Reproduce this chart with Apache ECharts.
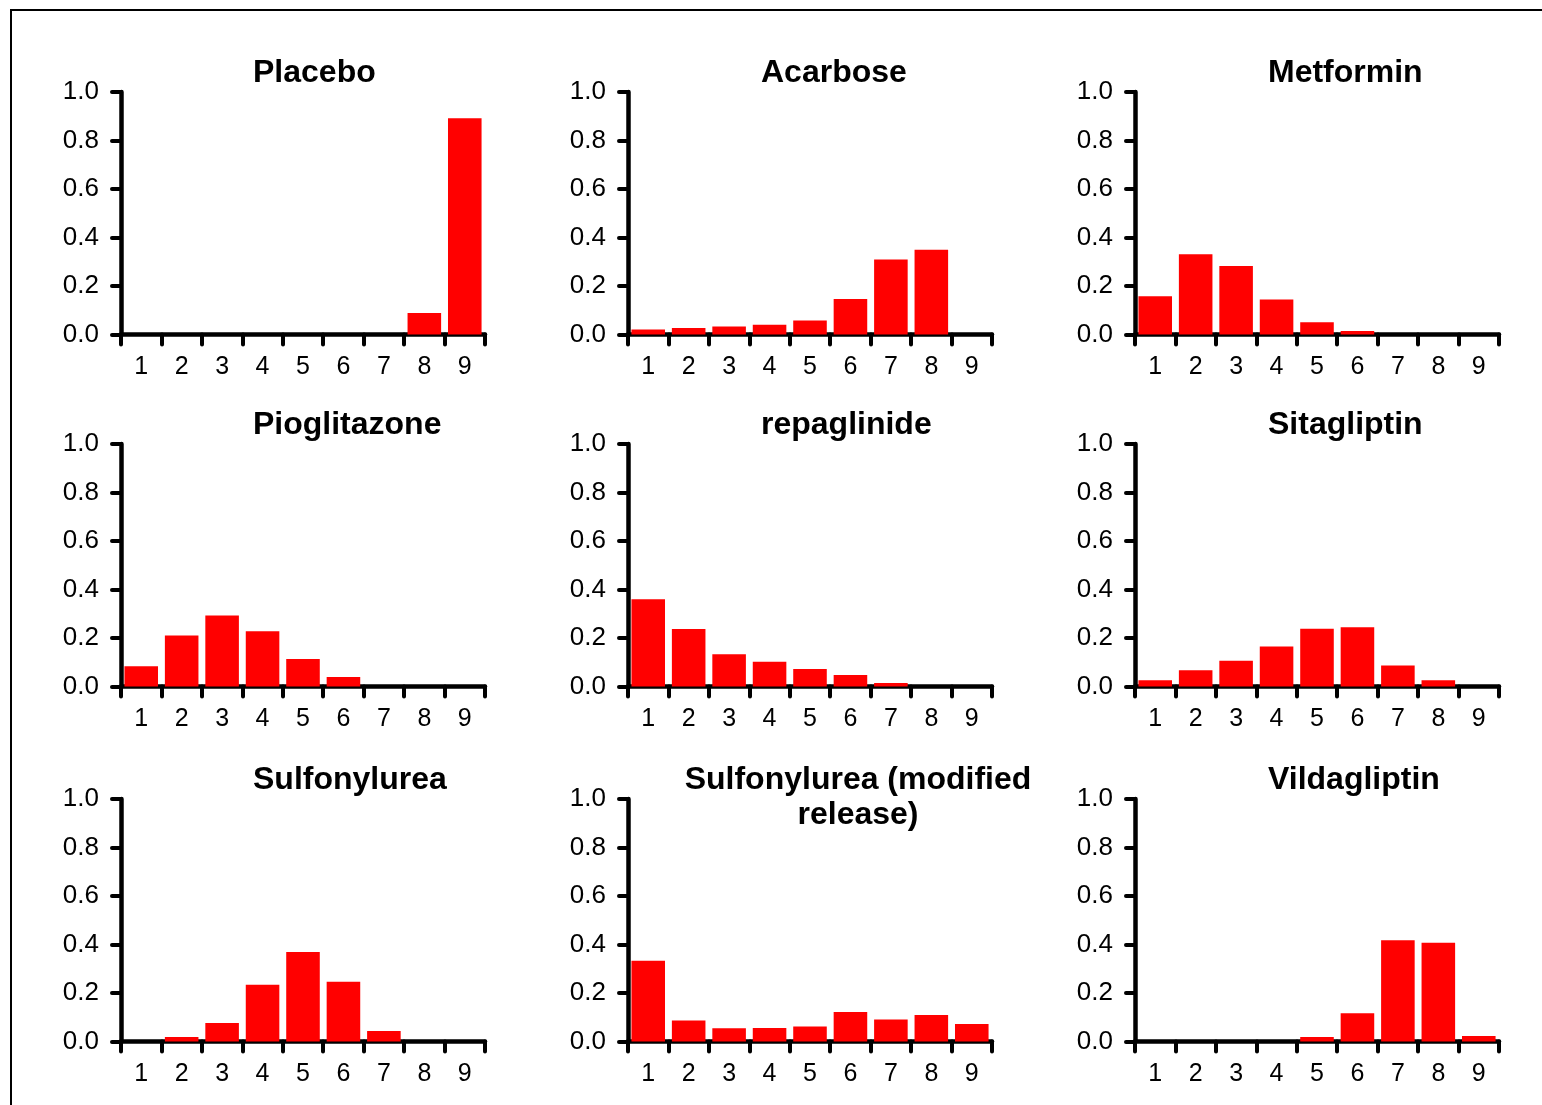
<!DOCTYPE html>
<html>
<head>
<meta charset="utf-8">
<script src="https://cdn.jsdelivr.net/npm/echarts@6/dist/echarts.min.js"></script>
<style>
html,body{margin:0;padding:0;background:#fff;}
#chart{width:1542px;height:1105px;}
</style>
</head>
<body>
<div id="chart"></div>
<script>
// ---- data ----
var categories = ['1','2','3','4','5','6','7','8','9'];
var titles = ['Placebo','Acarbose','Metformin','Pioglitazone','repaglinide','Sitagliptin','Sulfonylurea','Sulfonylurea (modified\nrelease)','Vildagliptin'];
var placebo      = [0, 0, 0, 0, 0, 0, 0, 0.089, 0.892];
var acarbose     = [0.021, 0.027, 0.033, 0.040, 0.058, 0.146, 0.309, 0.349, 0];
var metformin    = [0.158, 0.331, 0.282, 0.144, 0.051, 0.014, 0, 0, 0];
var pioglitazone = [0.083, 0.210, 0.293, 0.228, 0.113, 0.039, 0, 0, 0];
var repaglinide  = [0.360, 0.237, 0.133, 0.102, 0.072, 0.047, 0.014, 0, 0];
var sitagliptin  = [0.026, 0.067, 0.106, 0.165, 0.238, 0.244, 0.087, 0.026, 0];
var sulfonylurea = [0, 0.019, 0.076, 0.234, 0.369, 0.246, 0.043, 0, 0];
var sulfonylureaMR = [0.333, 0.087, 0.055, 0.056, 0.062, 0.122, 0.091, 0.109, 0.072];
var vildagliptin = [0, 0, 0, 0, 0.019, 0.117, 0.418, 0.407, 0.023];
var yTicks = [0, 0.2, 0.4, 0.6, 0.8, 1.0];

var seriesData = [placebo, acarbose, metformin, pioglitazone, repaglinide, sitagliptin, sulfonylurea, sulfonylureaMR, vildagliptin];

// ---- layout ----
var font = 'Liberation Sans, Arial, sans-serif';
var colLeft = [121, 628, 1135];
var rowTop = [92, 444, 799];
var titleLeft = [253, 761, 1268];
var plotW = 364, plotH = 242.5;

var grids = [], xAxes = [], yAxes = [], series = [], titleOpts = [];
for (var i = 0; i < 9; i++) {
  var r = Math.floor(i / 3), c = i % 3;
  grids.push({left: colLeft[c], top: rowTop[r], width: plotW, height: plotH, containLabel: false});
  xAxes.push({
    type: 'category', gridIndex: i, data: categories, boundaryGap: true,
    axisLine: {show: true, lineStyle: {color: '#000', width: 4.5, cap: 'round'}},
    axisTick: {show: true, inside: false, length: 10, interval: 0, lineStyle: {color: '#000', width: 4, cap: 'round'}},
    axisLabel: {show: true, interval: 0, color: '#000', fontSize: 25, fontFamily: font, margin: 20},
    splitLine: {show: false}
  });
  yAxes.push({
    type: 'value', gridIndex: i, min: yTicks[0], max: yTicks[yTicks.length - 1], interval: 0.2,
    axisLine: {show: true, lineStyle: {color: '#000', width: 4.5, cap: 'round'}},
    axisTick: {show: true, inside: false, length: 9, lineStyle: {color: '#000', width: 4, cap: 'round'}},
    axisLabel: {show: true, color: '#000', fontSize: 26, fontFamily: font, margin: 22,
      formatter: function (v) { return v.toFixed(1); }},
    splitLine: {show: false}
  });
  series.push({
    type: 'bar', xAxisIndex: i, yAxisIndex: i, data: seriesData[i],
    barCategoryGap: '17%', itemStyle: {color: '#FF0000'}, silent: true, animation: false
  });
  var isWrapped = titles[i].indexOf('\n') >= 0;
  titleOpts.push({
    text: titles[i],
    left: isWrapped ? 858 : titleLeft[c],
    top: rowTop[r] - 36,
    padding: 0,
    textAlign: isWrapped ? 'center' : 'left',
    textStyle: {fontSize: 32, fontWeight: 'bold', color: '#000', fontFamily: font, lineHeight: 35}
  });
}

var chart = echarts.init(document.getElementById('chart'), null, {renderer: 'canvas'});
chart.setOption({
  animation: false,
  backgroundColor: '#fff',
  title: titleOpts,
  grid: grids,
  xAxis: xAxes,
  yAxis: yAxes,
  series: series,
  graphic: [{
    type: 'rect', silent: true, z: -1,
    shape: {x: 11, y: 10, width: 1700, height: 1300},
    style: {fill: 'none', stroke: '#000', lineWidth: 2}
  }]
});
</script>
</body>
</html>
